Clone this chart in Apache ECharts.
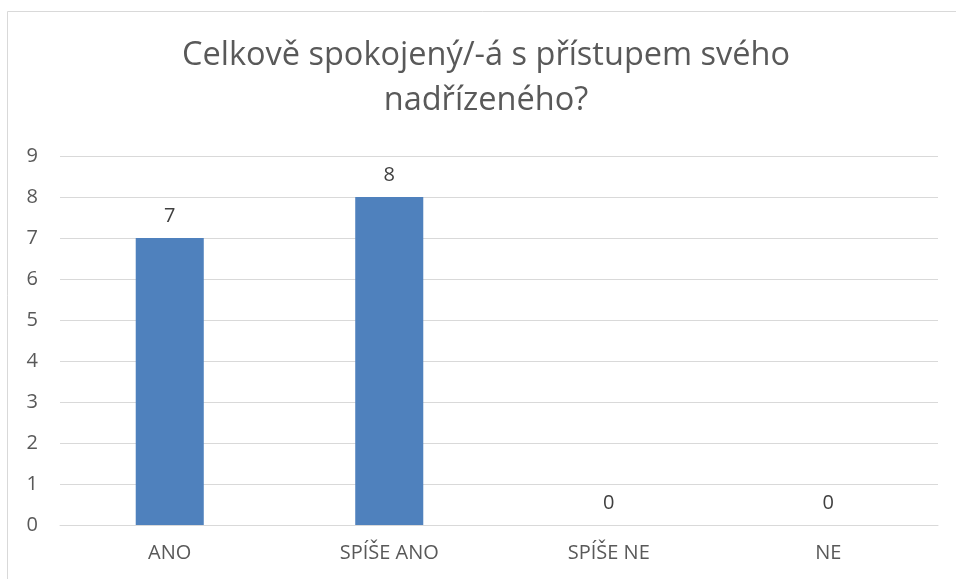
<!DOCTYPE html>
<html>
<head>
<meta charset="utf-8">
<script src="https://cdn.jsdelivr.net/npm/echarts@6/dist/echarts.min.js"></script>
<style>
html,body{margin:0;padding:0;background:#fff;}
#chart{width:956px;height:579px;}
</style>
</head>
<body>
<div id="chart"></div>
<script>
const titleText = 'Celkově spokojený/-á s přístupem svého\nnadřízeného?';
const categories = ['ANO', 'SPÍŠE ANO', 'SPÍŠE NE', 'NE'];
const values = [7, 8, 0, 0];
const yMin = 0, yMax = 9, yStep = 1;

const chart = echarts.init(document.getElementById('chart'), null, {renderer: 'canvas'});
const font = '"Open Sans", "Noto Sans", sans-serif';
chart.setOption({
  animation: false,
  backgroundColor: '#fff',
  graphic: [{
    type: 'rect',
    shape: {x: 7.5, y: 11.5, width: 1000, height: 1000},
    style: {fill: 'none', stroke: '#d9d9d9', lineWidth: 1},
    silent: true, z: -1
  }],
  title: {
    text: titleText,
    left: 486,
    textAlign: 'center',
    top: 33,
    padding: 0,
    textStyle: {fontFamily: font, fontSize: 32.5, fontWeight: 'normal', color: '#595959', lineHeight: 45}
  },
  grid: {left: 60, right: 18, top: 156, bottom: 54, containLabel: false},
  xAxis: {
    type: 'category',
    data: categories,
    axisLine: {show: true, lineStyle: {color: '#d9d9d9', width: 1}},
    axisTick: {show: false},
    axisLabel: {fontFamily: font, fontSize: 20, color: '#595959', margin: 18}
  },
  yAxis: {
    type: 'value',
    min: yMin, max: yMax, interval: yStep,
    axisLine: {show: false},
    axisTick: {show: false},
    splitLine: {lineStyle: {color: '#d9d9d9', width: 1}},
    axisLabel: {fontFamily: font, fontSize: 20, color: '#595959', margin: 22}
  },
  series: [{
    type: 'bar',
    data: values,
    barWidth: '31%',
    itemStyle: {color: '#4f81bd'},
    label: {show: true, position: 'top', distance: 12, fontFamily: font, fontSize: 20, color: '#404040'}
  }]
});
</script>
</body>
</html>
